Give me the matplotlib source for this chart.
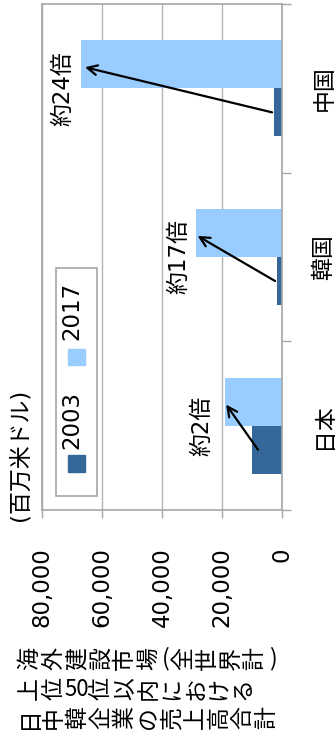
import numpy as np
import matplotlib.pyplot as plt
from matplotlib.patches import Rectangle

### Data
categories = ['日本', '韓国', '中国']
sales_2003 = [10000, 1700, 2700]
sales_2017 = [19000, 28700, 67000]
ratio_labels = ['約2倍', '約17倍', '約24倍']
arrow_from = [8000, 2300, 3300]
value_ticks = [0, 20000, 40000, 60000, 80000]
tick_labels = ['0', '20,000', '40,000', '60,000', '80,000']
series_names = ['2003', '2017']
# title is vertical writing turned sideways: one entry per cell
title_lines = [['海', '外', '建', '設', '市', '場', '(', '全', '世', '界', '計', ')'],
               ['上', '位', '50', '位', '以', '内', 'に', 'お', 'け', 'る'],
               ['日', '中', '韓', '企', '業', 'の', '売', '上', '高', '合', '計']]
unit_label = '(百万米ドル)'

### Style
plt.rcParams['font.family'] = ['DejaVu Sans', 'Noto Sans CJK JP']
c_dark = '#35679a'
c_light = '#99ccff'
c_axis = '#a6a6a6'
fs = 16.5

fig = plt.figure(figsize=(3.35, 7.38), dpi=100)
ax = fig.add_axes([42/335, 1-510/738, 240/335, 506/738])

y = np.arange(len(categories))
h = 0.285
ax.barh(y - h/2, sales_2003, height=h, color=c_dark, zorder=2)
ax.barh(y + h/2, sales_2017, height=h, color=c_light, zorder=2)

ax.set_xlim(80000, 0)
ax.set_ylim(-0.5, 2.5)

# value axis (bottom)
ax.set_xticks(value_ticks, labels=tick_labels)
ax.tick_params(axis='x', direction='out', length=6, width=1, color=c_axis,
               labelrotation=90, pad=21, labelsize=fs)
ax.grid(axis='x', color='#b3b3b3', lw=1, zorder=0)

# category axis (right)
ax.yaxis.tick_right()
ax.set_yticks([-0.5, 0.5, 1.5, 2.5], labels=['', '', '', ''])
ax.tick_params(axis='y', which='major', direction='out', length=6.5,
               width=1, color=c_axis)
ax.set_yticks(y, labels=categories, minor=True)
ax.tick_params(axis='y', which='minor', length=0, pad=22, labelsize=fs,
               labelrotation=90)
for t in ax.get_yticklabels(minor=True):
    t.set_va('center')

for s in ax.spines.values():
    s.set_color(c_axis)
    s.set_linewidth(1.2)

# arrows and ratio labels
for i in range(len(categories)):
    ax.annotate('', xy=(sales_2017[i] * 0.98, y[i] + 0.125),
                xytext=(arrow_from[i], y[i] - h/2),
                arrowprops=dict(arrowstyle='->, head_length=0.7, head_width=0.35',
                                color='black', lw=1.6, shrinkA=0, shrinkB=0),
                zorder=4)
label_x = [26700, 34300, 73000]
for i in range(len(categories)):
    ax.text(label_x[i], y[i], ratio_labels[i], rotation=90, ha='center',
            va='center', fontsize=fs, zorder=4)

# legend drawn by hand (rotated)
ax.add_patch(Rectangle((0.058, 0.028), 0.171, 0.45, transform=ax.transAxes,
                       fill=True, facecolor='white', edgecolor=c_axis, lw=1.2,
                       zorder=5))
ax.add_patch(Rectangle((0.108, 0.075), 0.071, 0.034, transform=ax.transAxes,
                       color=c_dark, zorder=6))
ax.add_patch(Rectangle((0.108, 0.287), 0.071, 0.032, transform=ax.transAxes,
                       color=c_light, zorder=6))
ax.text(0.125, 0.178, series_names[0], transform=ax.transAxes, rotation=90,
        ha='center', va='center', fontsize=fs, zorder=6)
ax.text(0.125, 0.393, series_names[1], transform=ax.transAxes, rotation=90,
        ha='center', va='center', fontsize=fs, zorder=6)

# unit label
fig.text(20/335, 1-455/738, unit_label, rotation=90, ha='center', va='center',
         fontsize=fs)

# title
em = 23.7
row_y = [659, 689, 718]
for line, ry in zip(title_lines, row_y):
    px = 18.0
    for ch in line:
        if ch in '()':
            w, rot, size = em * 0.5, 0, fs
        elif ch.isdigit():
            w, rot, size = em, 0, 16
        else:
            w, rot, size = em, 90, fs
        fig.text((px + w/2)/335, 1 - ry/738, ch, rotation=rot,
                 family='Noto Sans CJK JP', ha='center', va='center',
                 fontsize=size)
        px += w

plt.savefig('out.png', dpi=100)
